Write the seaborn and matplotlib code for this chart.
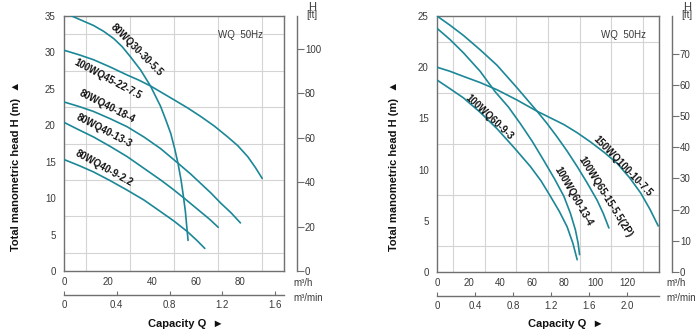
import numpy as np
import pandas as pd
import matplotlib
matplotlib.use("Agg")
import matplotlib.pyplot as plt
import seaborn as sns

sns.set_style("white")
plt.rcParams["font.family"] = ["Liberation Sans", "DejaVu Sans"]

# ---------------- data (left chart) ----------------
L_names = ["80WQ30-30-5.5", "100WQ45-22-7.5", "80WQ40-18-4", "80WQ40-13-3", "80WQ40-9-2.2"]
L_q_30_30 = [3.5, 7.3, 13.4, 18.0, 22.6, 26.4, 30.2, 34.8, 39.3, 41.6, 43.9, 46.2, 48.5, 50.3, 51.8, 53.2, 54.3, 55.2, 55.8, 56.4]
L_h_30_30 = [35.0, 34.5, 33.7, 32.9, 31.9, 30.8, 29.4, 27.6, 25.4, 24.0, 22.6, 20.8, 18.9, 16.8, 14.8, 12.5, 10.2, 8.1, 6.1, 4.2]
L_q_45_22 = [0, 6.6, 13.4, 21.0, 28.7, 34.0, 39.3, 50, 56.1, 62.2, 68.3, 74.4, 79.0, 83.5, 87.0, 90.1]
L_h_45_22 = [30.3, 29.7, 29.0, 28.0, 26.9, 26.2, 25.4, 23.5, 22.4, 21.2, 19.9, 18.4, 17.2, 15.7, 14.2, 12.7]
L_q_40_18 = [0, 6.6, 13.4, 21.0, 28.7, 36.3, 43.9, 51.8, 57.6, 62.2, 66.8, 71.3, 75.9, 80.2]
L_h_40_18 = [23.2, 22.6, 21.9, 20.9, 19.8, 18.4, 16.8, 14.8, 13.3, 12.0, 10.7, 9.3, 8.0, 6.6]
L_q_40_13 = [0, 6.6, 13.4, 21.0, 28.7, 36.3, 43.9, 49.2, 54.6, 62.2, 66.2, 70.1]
L_h_40_13 = [20.4, 19.4, 18.4, 17.1, 15.7, 14.1, 12.5, 11.3, 10.0, 8.1, 7.1, 6.0]
L_q_40_9 = [0, 6.6, 13.4, 21.0, 28.7, 36.3, 43.9, 50.0, 56.1, 60.4, 64.0]
L_h_40_9 = [15.3, 14.5, 13.6, 12.4, 11.1, 9.75, 8.15, 6.85, 5.4, 4.2, 3.1]

# ---------------- data (right chart) ----------------
R_names = ["150WQ100-10-7.5", "100WQ65-15-5.5(2P)", "100WQ60-13-4", "100WQ60-9-3"]
R_q_100_10 = [0, 8.2, 16.7, 27.2, 37.8, 50.4, 63.1, 80, 88.4, 96.8, 105.3, 113.7, 121.5, 128.5, 134.4, 139.5]
R_h_100_10 = [20.0, 19.6, 19.1, 18.5, 17.8, 16.8, 15.7, 14.4, 13.6, 12.7, 11.7, 10.6, 9.2, 7.7, 6.1, 4.5]
R_q_65_15 = [0, 8.2, 16.7, 27.2, 37.8, 50.4, 63.1, 69.4, 75.7, 82.1, 88.4, 94.7, 101, 104.9, 108.4]
R_h_65_15 = [25.0, 24.1, 23.1, 21.7, 20.2, 18.0, 15.7, 14.5, 13.2, 11.8, 10.3, 8.7, 7.0, 5.7, 4.3]
R_q_60_13 = [0, 8.2, 16.7, 27.2, 36.7, 45.1, 52.5, 59.9, 67.3, 74.1, 80, 84.2, 87.3, 89.0, 89.9]
R_h_60_13 = [23.8, 22.7, 21.4, 19.6, 17.6, 16.1, 14.5, 12.8, 10.9, 9.1, 7.4, 5.7, 4.1, 2.8, 1.7]
R_q_60_9 = [0, 8.2, 16.7, 27.2, 37.8, 48.3, 58.9, 65.6, 71.5, 77.2, 82.1, 85.7, 88.4]
R_h_60_9 = [18.75, 17.9, 17.0, 15.6, 14.0, 12.2, 10.3, 8.9, 7.4, 5.9, 4.4, 2.8, 1.2]

# label placements (x, y, rotation)
L_labels = [(33.2, 30.3, -45), (19.8, 26.4, -28), (19.8, 22.6, -27), (18.1, 19.3, -27.5), (18.4, 14.1, -29)]
R_labels = [(116.9, 10.35, -46), (106.3, 7.36, -58), (85.9, 7.36, -60), (33.1, 15.1, -43)]

L_xticks = [0, 20, 40, 60, 80]
L_yticks = [0, 5, 10, 15, 20, 25, 30, 35]
L_fticks = [0, 20, 40, 60, 80, 100]
L_mticks = [0, 0.4, 0.8, 1.2, 1.6]
R_xticks = [0, 20, 40, 60, 80, 100, 120]
R_yticks = [0, 5, 10, 15, 20, 25]
R_fticks = [0, 10, 20, 30, 40, 50, 60, 70]
R_mticks = [0, 0.4, 0.8, 1.2, 1.6, 2.0]

CURVE = "#1b8797"
FRAME = "#707070"
GRID = "#d4d4d4"
TXT = "#3a3a3a"

fig = plt.figure(figsize=(7.0, 3.35), dpi=100)


def make_chart(rect, xmax, ymax, curves, names, labels, xticks, yticks, fticks, mticks, mfmt):
    ax = fig.add_axes(rect)
    for (q, h), name in zip(curves, names):
        df = pd.DataFrame({"Q": q, "H": h})
        sns.lineplot(data=df, x="Q", y="H", ax=ax, sort=False, color=CURVE, lw=1.2, zorder=3)
    for name, (x, y, r) in zip(names, labels):
        ax.text(x, y, name, rotation=r, rotation_mode="anchor", ha="center", va="center",
                fontsize=7, fontweight="bold", color="#111111", zorder=4)
    ax.set_xlim(0, xmax)
    ax.set_ylim(0, ymax)
    ax.set_xticks(np.arange(0, xmax + 0.01, 10), minor=True)
    ax.set_yticks(np.arange(0, ymax + 0.01, 2.5), minor=True)
    ax.set_xticks(xticks)
    ax.set_yticks(yticks)
    ax.set_xticklabels([str(t) for t in xticks])
    ax.set_yticklabels([str(t) for t in yticks])
    ax.grid(True, which="minor", color=GRID, lw=0.8, zorder=0)
    ax.tick_params(which="both", length=0, labelsize=7, labelcolor=TXT)
    ax.tick_params(axis="x", pad=4)
    ax.tick_params(axis="y", pad=6)
    ax.set_xlabel("")
    ax.set_ylabel("")
    for s in ax.spines.values():
        s.set_color(FRAME)
        s.set_linewidth(1.0)
    ax.text(0.80 if xmax == 100 else 0.84, 0.925, "WQ  50Hz", transform=ax.transAxes,
            fontsize=7, color=TXT, ha="center", va="center")

    # feet axis
    axf = ax.twinx()
    axf.set_ylim(0, ymax * 3.28084)
    axf.set_yticks(fticks)
    axf.set_yticklabels([str(t) for t in fticks])
    for k, s in axf.spines.items():
        s.set_visible(k == "right")
    axf.spines["right"].set_position(("outward", 9))
    axf.spines["right"].set_color(FRAME)
    axf.spines["right"].set_linewidth(1.0)
    axf.tick_params(axis="y", direction="out", length=5, width=0.8, color=FRAME,
                    labelsize=7, labelcolor=TXT, pad=1)
    axf.grid(False)

    # m3/min axis
    axm = ax.twiny()
    axm.set_xlim(0, xmax / 60.0)
    axm.xaxis.set_ticks_position("bottom")
    axm.xaxis.set_label_position("bottom")
    axm.set_xticks(mticks)
    axm.set_xticklabels([mfmt(t) for t in mticks])
    for k, s in axm.spines.items():
        s.set_visible(k == "bottom")
    axm.spines["bottom"].set_position(("outward", 17))
    axm.spines["bottom"].set_color(FRAME)
    axm.spines["bottom"].set_linewidth(1.0)
    axm.tick_params(axis="x", direction="in", length=3, width=0.8, color=FRAME,
                    labelsize=7, labelcolor=TXT, pad=4)
    axm.grid(False)
    return ax


fmt = lambda t: "0" if t == 0 else f"{t:.1f}"

axL = make_chart([64 / 700, 1 - 271 / 335, 220 / 700, 255 / 335], 100, 35,
                 [(L_q_30_30, L_h_30_30), (L_q_45_22, L_h_45_22), (L_q_40_18, L_h_40_18),
                  (L_q_40_13, L_h_40_13), (L_q_40_9, L_h_40_9)],
                 L_names, L_labels, L_xticks, L_yticks, L_fticks, L_mticks, fmt)

axR = make_chart([437 / 700, 1 - 272 / 335, 222 / 700, 256 / 335], 140, 25,
                 [(R_q_100_10, R_h_100_10), (R_q_65_15, R_h_65_15), (R_q_60_13, R_h_60_13),
                  (R_q_60_9, R_h_60_9)],
                 R_names, R_labels, R_xticks, R_yticks, R_fticks, R_mticks, fmt)

# figure texts
def px(x, y):
    return x / 700, 1 - y / 335

for yl_x, cap_x in [(16, 186), (394, 566)]:
    fig.text(*px(yl_x, 166), "Total manometric head H (m)  \u25B2", rotation=90,
             ha="center", va="center", fontsize=8, fontweight="bold", color="#111111")
    fig.text(*px(cap_x, 324), "Capacity Q  \u25BA", ha="center", va="center",
             fontsize=8, fontweight="bold", color="#111111")

for hx, mx in [(312, 293), (687, 666)]:
    fig.text(*px(hx, 6.5), "H", ha="center", va="center", fontsize=8, color=TXT)
    fig.text(*px(hx, 15.5), "[ft]", ha="center", va="center", fontsize=7, color=TXT)
    fig.text(*px(mx, 283), "m\u00B3/h", ha="left", va="center", fontsize=7, color=TXT)
    fig.text(*px(mx, 298), "m\u00B3/min", ha="left", va="center", fontsize=7, color=TXT)

fig.savefig("out.png", dpi=100)
